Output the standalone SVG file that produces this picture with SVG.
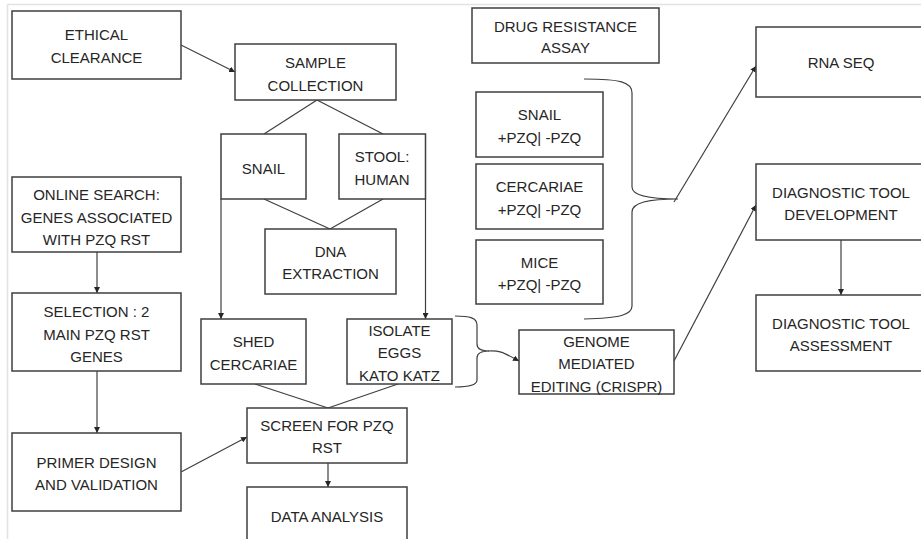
<svg xmlns="http://www.w3.org/2000/svg" width="921" height="539" viewBox="0 0 921 539">
<style>
.box{fill:#ffffff;stroke:#3f3f3f;stroke-width:1.5}
.t{font-family:"Liberation Sans",Arial,sans-serif;font-size:15px;fill:#262626;text-anchor:middle}
.ln{fill:none;stroke:#3f3f3f;stroke-width:1.2}
.frame{fill:none;stroke:#e3e3df;stroke-width:1.6}
</style>
<defs>
<marker id="ah" viewBox="0 0 10 10" refX="10" refY="5" markerWidth="6" markerHeight="6" markerUnits="userSpaceOnUse" orient="auto">
<path d="M0,0 L10,5 L0,10 z" fill="#262626"/>
</marker>
</defs>
<rect width="921" height="539" fill="#ffffff"/>
<path class="frame" d="M7.5,539 L7.5,4.5 L921,4.5"/>

<g id="connectors">
<line class="ln" x1="181" y1="45" x2="235" y2="72" marker-end="url(#ah)"/>
<line class="ln" x1="317" y1="100" x2="264" y2="134"/>
<line class="ln" x1="317" y1="100" x2="383" y2="134"/>
<line class="ln" x1="264" y1="199" x2="330" y2="229"/>
<line class="ln" x1="383" y1="199" x2="330" y2="229"/>
<line class="ln" x1="221" y1="199" x2="221" y2="319" marker-end="url(#ah)"/>
<line class="ln" x1="425.5" y1="199" x2="425.5" y2="319" marker-end="url(#ah)"/>
<line class="ln" x1="255" y1="384" x2="328" y2="408"/>
<line class="ln" x1="398" y1="384" x2="328" y2="408"/>
<line class="ln" x1="328" y1="463" x2="328" y2="487" marker-end="url(#ah)"/>
<line class="ln" x1="97" y1="252" x2="97" y2="293" marker-end="url(#ah)"/>
<line class="ln" x1="97" y1="371" x2="97" y2="433" marker-end="url(#ah)"/>
<line class="ln" x1="181" y1="472" x2="247" y2="437" marker-end="url(#ah)"/>
<path class="ln" d="M584,79 C620,79 632,82 632,93 L632,187 C632,196 650,199 678,199 C650,199 632,202 632,212 L632,306 C632,315 620,318 584,319"/>
<line class="ln" x1="674" y1="202" x2="756" y2="66" marker-end="url(#ah)"/>
<path class="ln" d="M455,316 C470,316 477,318 477,325 L477,344 C477,349 481,351 489,351 C481,351 477,353 477,358 L477,380 C477,385 470,387 455,387"/>
<path class="ln" d="M488,351 C500,350 504,353 519,361" marker-end="url(#ah)"/>
<line class="ln" x1="674" y1="361" x2="756" y2="205" marker-end="url(#ah)"/>
<line class="ln" x1="841" y1="240" x2="841" y2="295" marker-end="url(#ah)"/>
</g>

<g id="ethical">
<rect class="box" x="12" y="11" width="169" height="68"/>
<text class="t" x="96.5" y="40">ETHICAL</text>
<text class="t" x="96.5" y="63">CLEARANCE</text>
</g>
<g id="sample">
<rect class="box" x="235" y="44" width="161" height="56"/>
<text class="t" x="315.5" y="68">SAMPLE</text>
<text class="t" x="315.5" y="91">COLLECTION</text>
</g>
<g id="snail">
<rect class="box" x="221" y="134" width="85" height="65"/>
<text class="t" x="263.5" y="174">SNAIL</text>
</g>
<g id="stool">
<rect class="box" x="339" y="134" width="86.5" height="65"/>
<text class="t" x="382" y="162">STOOL:</text>
<text class="t" x="382" y="185">HUMAN</text>
</g>
<g id="dna">
<rect class="box" x="265" y="229" width="131" height="65"/>
<text class="t" x="330.5" y="257">DNA</text>
<text class="t" x="330.5" y="279">EXTRACTION</text>
</g>
<g id="shed">
<rect class="box" x="201" y="319" width="105" height="65"/>
<text class="t" x="253.5" y="347">SHED</text>
<text class="t" x="253.5" y="370">CERCARIAE</text>
</g>
<g id="isolate">
<rect class="box" x="347" y="319" width="105" height="65"/>
<text class="t" x="399.5" y="336">ISOLATE</text>
<text class="t" x="399.5" y="358">EGGS</text>
<text class="t" x="399.5" y="381">KATO KATZ</text>
</g>
<g id="screen">
<rect class="box" x="247" y="408" width="160" height="55"/>
<text class="t" x="327" y="431">SCREEN FOR PZQ</text>
<text class="t" x="327" y="453">RST</text>
</g>
<g id="data">
<rect class="box" x="247" y="487" width="160" height="60"/>
<text class="t" x="327" y="522">DATA ANALYSIS</text>
</g>
<g id="online">
<rect class="box" x="12" y="177" width="169" height="75"/>
<text class="t" x="96.5" y="200">ONLINE SEARCH:</text>
<text class="t" x="96.5" y="223">GENES ASSOCIATED</text>
<text class="t" x="96.5" y="245">WITH PZQ RST</text>
</g>
<g id="selection">
<rect class="box" x="12" y="293" width="169" height="78"/>
<text class="t" x="96.5" y="317">SELECTION : 2</text>
<text class="t" x="96.5" y="340">MAIN PZQ RST</text>
<text class="t" x="96.5" y="362">GENES</text>
</g>
<g id="primer">
<rect class="box" x="12" y="433" width="169" height="78"/>
<text class="t" x="96.5" y="468">PRIMER DESIGN</text>
<text class="t" x="96.5" y="490">AND VALIDATION</text>
</g>
<g id="drug">
<rect class="box" x="472" y="8" width="187" height="55"/>
<text class="t" x="565.5" y="32">DRUG RESISTANCE</text>
<text class="t" x="565.5" y="53">ASSAY</text>
</g>
<g id="snail-pzq">
<rect class="box" x="476" y="92" width="127" height="65"/>
<text class="t" x="539.5" y="120">SNAIL</text>
<text class="t" x="539.5" y="143">+PZQ| -PZQ</text>
</g>
<g id="cercariae-pzq">
<rect class="box" x="476" y="164" width="127" height="65"/>
<text class="t" x="539.5" y="192">CERCARIAE</text>
<text class="t" x="539.5" y="215">+PZQ| -PZQ</text>
</g>
<g id="mice-pzq">
<rect class="box" x="476" y="240" width="127" height="64"/>
<text class="t" x="539.5" y="268">MICE</text>
<text class="t" x="539.5" y="290">+PZQ| -PZQ</text>
</g>
<g id="genome">
<rect class="box" x="519" y="330" width="155" height="64"/>
<text class="t" x="596.5" y="347">GENOME</text>
<text class="t" x="596.5" y="369">MEDIATED</text>
<text class="t" x="596.5" y="392">EDITING (CRISPR)</text>
</g>
<g id="rnaseq">
<rect class="box" x="756" y="27" width="170" height="70"/>
<text class="t" x="841" y="68">RNA SEQ</text>
</g>
<g id="diag-dev">
<rect class="box" x="756" y="164" width="170" height="76"/>
<text class="t" x="841" y="198">DIAGNOSTIC TOOL</text>
<text class="t" x="841" y="220">DEVELOPMENT</text>
</g>
<g id="diag-assess">
<rect class="box" x="756" y="295" width="170" height="76"/>
<text class="t" x="841" y="329">DIAGNOSTIC TOOL</text>
<text class="t" x="841" y="351">ASSESSMENT</text>
</g>
</svg>
